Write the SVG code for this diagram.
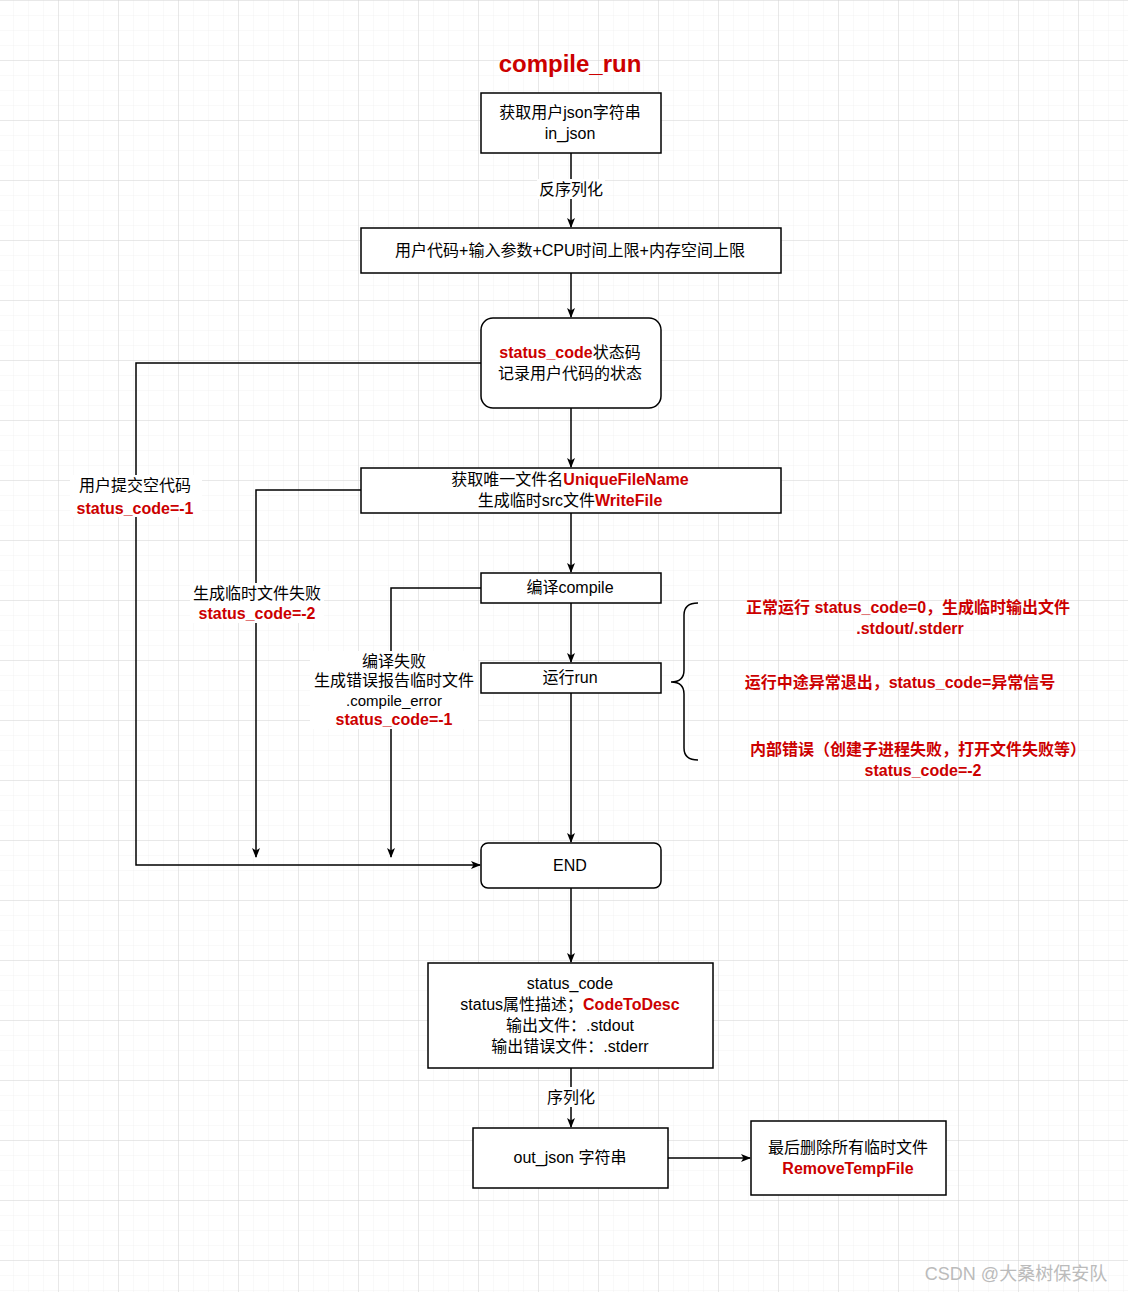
<svg xmlns="http://www.w3.org/2000/svg" width="1128" height="1292" viewBox="0 0 1128 1292">
<defs>
<pattern id="minor" width="15" height="15" patternUnits="userSpaceOnUse" x="-1" y="1"><path d="M15 0V15M0 15H15" fill="none" stroke="#f2f2f2" stroke-width="1"/></pattern>
<pattern id="major" width="60" height="60" patternUnits="userSpaceOnUse" x="-1" y="1"><path d="M60 0V60M0 60H60" fill="none" stroke="#d6d6d6" stroke-width="1"/></pattern>
<marker id="ah" markerWidth="10" markerHeight="10" refX="9" refY="5" orient="auto" markerUnits="userSpaceOnUse"><path d="M0 1L10 5L0 9L2.5 5Z" fill="#000"/></marker>
</defs>
<style>
.b{fill:#fff;stroke:#000;stroke-width:1.5}
text{font-family:"Liberation Sans","Noto Sans CJK SC",sans-serif;font-size:16px;text-anchor:middle;fill:#000}
.r{fill:#c00;font-weight:bold}
.c{fill:none;stroke:#000;stroke-width:1.5;marker-end:url(#ah)}
.lb{fill:#fff}
</style>
<rect width="1128" height="1292" fill="#fff"/>
<rect width="1128" height="1292" fill="url(#minor)"/>
<rect width="1128" height="1292" fill="url(#major)"/>
<text x="570" y="72" class="r" style="font-size:24px">compile_run</text>
<g id="connectors">
<path class="c" d="M571 153V227"/>
<path class="c" d="M571 273V317"/>
<path class="c" d="M571 408V467"/>
<path class="c" d="M571 513V572"/>
<path class="c" d="M571 603V662"/>
<path class="c" d="M571 693V842"/>
<path class="c" d="M571 888V962"/>
<path class="c" d="M571 1068V1127"/>
<path class="c" d="M668 1158H750"/>
<path class="c" d="M481 363H136V865H480"/>
<path class="c" d="M361 490H256V857"/>
<path class="c" d="M481 588H391V857"/>
<rect class="lb" x="537" y="179" width="68" height="20"/>
<text x="571" y="195">反序列化</text>
<rect class="lb" x="544" y="1087" width="54" height="20"/>
<text x="571" y="1103">序列化</text>
<rect class="lb" x="70" y="475" width="132" height="42"/>
<text x="135" y="491">用户提交空代码</text>
<text x="135" y="514" class="r">status_code=-1</text>
<rect class="lb" x="190" y="583" width="134" height="40"/>
<text x="257" y="599">生成临时文件失败</text>
<text x="257" y="619" class="r">status_code=-2</text>
<rect class="lb" x="310" y="651" width="168" height="78"/>
<text x="394" y="667">编译失败</text>
<text x="394" y="686">生成错误报告临时文件</text>
<text x="394" y="706" style="font-size:15px">.compile_error</text>
<text x="394" y="725" class="r">status_code=-1</text>
</g>
<g id="n1"><rect class="b" x="481" y="93" width="180" height="60"/><text x="570" y="118">获取用户json字符串</text><text x="570" y="139">in_json</text></g>
<g id="n2"><rect class="b" x="361" y="228" width="420" height="45"/><text x="570" y="256">用户代码+输入参数+CPU时间上限+内存空间上限</text></g>
<g id="n3"><rect class="b" x="481" y="318" width="180" height="90" rx="12"/><text x="570" y="358"><tspan class="r">status_code</tspan>状态码</text><text x="570" y="379">记录用户代码的状态</text></g>
<g id="n4"><rect class="b" x="361" y="468" width="420" height="45"/><text x="570" y="485">获取唯一文件名<tspan class="r">UniqueFileName</tspan></text><text x="570" y="506">生成临时src文件<tspan class="r">WriteFile</tspan></text></g>
<g id="n5"><rect class="b" x="481" y="573" width="180" height="30"/><text x="570" y="593">编译compile</text></g>
<g id="n6"><rect class="b" x="481" y="663" width="180" height="30"/><text x="570" y="683">运行run</text></g>
<g id="end"><rect class="b" x="481" y="843" width="180" height="45" rx="7"/><text x="570" y="871">END</text></g>
<g id="n7"><rect class="b" x="428" y="963" width="285" height="105"/><text x="570" y="989">status_code</text><text x="570" y="1010">status属性描述；<tspan class="r">CodeToDesc</tspan></text><text x="570" y="1031">输出文件：.stdout</text><text x="570" y="1052">输出错误文件：.stderr</text></g>
<g id="n8"><rect class="b" x="473" y="1128" width="195" height="60"/><text x="570" y="1163">out_json 字符串</text></g>
<g id="n9"><rect class="b" x="751" y="1121" width="195" height="74"/><text x="848" y="1153">最后删除所有临时文件</text><text x="848" y="1174" class="r">RemoveTempFile</text></g>
<g id="brace"><path d="M698 603C688 603 684 607 684 615V670C684 678 680 682 671 682C680 682 684 686 684 694V748C684 756 688 760 698 760" fill="none" stroke="#000" stroke-width="1.5"/></g>
<g id="notes">
<text x="908" y="613" class="r">正常运行 status_code=0，生成临时输出文件</text>
<text x="910" y="634" class="r">.stdout/.stderr</text>
<text x="900" y="688" class="r">运行中途异常退出，status_code=异常信号</text>
<text x="918" y="755" class="r">内部错误（创建子进程失败，打开文件失败等）</text>
<text x="923" y="776" class="r">status_code=-2</text>
</g>
<text x="1016" y="1280" style="font-size:18px;fill:#bbb">CSDN @大桑树保安队</text>
</svg>
